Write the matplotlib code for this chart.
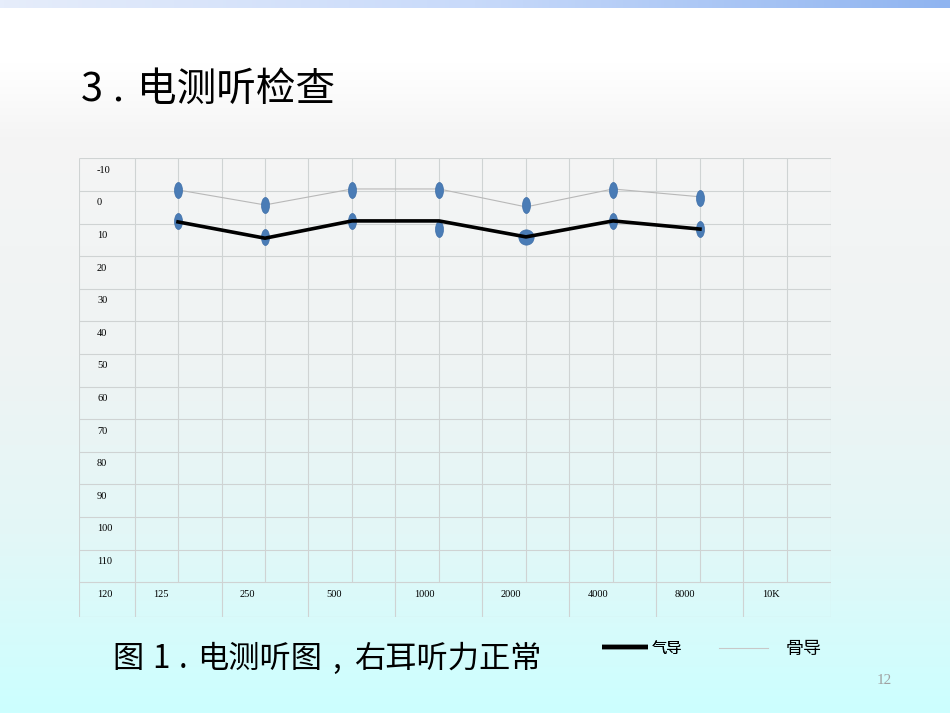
import numpy as np
import matplotlib
matplotlib.use("Agg")
import matplotlib.pyplot as plt
from matplotlib.path import Path
from matplotlib.transforms import Affine2D
from matplotlib.colors import LinearSegmentedColormap

# audiogram data (dB HL)
freq_labels = ['125', '250', '500', '1000', '2000', '4000', '8000', '10K']
db_labels = [-10, 0, 10, 20, 30, 40, 50, 60, 70, 80, 90, 100, 110, 120]
air_line = [4.5, 9.5, 4.2, 4.2, 9.1, 4.2, 6.7]
air_marks = [4.2, 9.2, 4.2, 6.7, 9.2, 4.2, 6.7]
bone_line = [-5.3, -0.7, -5.6, -5.6, -0.1, -5.6, -3.2]
bone_marks = [-5.3, -0.7, -5.3, -5.3, -0.7, -5.3, -2.9]

plt.rcParams['font.family'] = ['Noto Sans CJK SC', 'DejaVu Sans']
serif = ['Liberation Serif', 'DejaVu Serif']

W, H = 950, 713
fig = plt.figure(figsize=(W / 100, H / 100), dpi=100)

# slide background
bg = fig.add_axes([0, 0, 1, 1])
bg.set_xlim(0, W)
bg.set_ylim(H, 0)
bg.set_axis_off()
bg_cmap = LinearSegmentedColormap.from_list('bg', [
    (0.0, '#ffffff'), (0.09, '#ffffff'), (0.12, '#fcfcfc'), (0.19, '#f5f5f5'),
    (0.5, '#eff3f3'), (0.75, '#e3f7f7'), (1.0, '#ccffff')])
bg.imshow(np.linspace(0, 1, 256).reshape(-1, 1), cmap=bg_cmap,
          extent=[0, W, H, 0], aspect='auto')
bar_cmap = LinearSegmentedColormap.from_list('bar', ['#e6edfb', '#c8dafa', '#8fb4f0'])
bg.imshow(np.linspace(0, 1, 256).reshape(1, -1), cmap=bar_cmap,
          extent=[0, W, 8, 0], aspect='auto')

# the audiogram table
ax = fig.add_axes([79 / W, 96 / H, 752 / W, 459 / H])
ax.set_xlim(-1.138, 7.506)
ax.set_ylim(125.7, -15.1)
ax.set_axis_off()
ax.patch.set_alpha(0)

grid_c = '#cfd3d3'
n = len(freq_labels)
x_left, x_right = -1.138, 7.506
y_top, y_bot = -15.1, 125.7
last_line = db_labels[-1] - 5
for v in db_labels[:-1]:
    ax.hlines(v + 5, x_left, x_right, color=grid_c, lw=0.8)
ax.hlines([y_top, y_bot], x_left, x_right, color=grid_c, lw=0.8)
ax.vlines([x_left, x_right], y_top, y_bot, color=grid_c, lw=0.8)
ax.vlines(np.arange(-0.5, n - 0.5, 0.5), y_top, last_line, color=grid_c, lw=0.8)
ax.vlines(np.arange(-0.5, n - 1, 1.0), last_line, y_bot, color=grid_c, lw=0.8)

for v in db_labels:
    ax.text(-0.931, v - 1.3, str(v), fontsize=7.5, family=serif, va='center')
for i, f in enumerate(freq_labels):
    ax.text(i - 0.29, db_labels[-1] - 1.3, f, fontsize=7.5, family=serif, va='center')

x = np.arange(len(air_line))
ellipse = Path.unit_circle().transformed(Affine2D().scale(0.5, 1.0))
blue = '#4a7cb6'

bone_h, = ax.plot(x, bone_line, color='#b8b8b8', lw=0.8, zorder=2)
ax.plot(x, bone_marks, ls='none', marker=ellipse, ms=11.5, color=blue,
        mec='#3f6fa8', mew=0.5, zorder=3)
ax.plot(x[:4], air_marks[:4], ls='none', marker=ellipse, ms=11.5, color=blue,
        mec='#3f6fa8', mew=0.5, zorder=3)
ax.plot(x[4:5], air_marks[4:5], ls='none', marker='o', ms=11, color=blue,
        mec='#3f6fa8', mew=0.5, zorder=3)
ax.plot(x[5:], air_marks[5:], ls='none', marker=ellipse, ms=11.5, color=blue,
        mec='#3f6fa8', mew=0.5, zorder=3)
air_h, = ax.plot(x, air_line, color='black', lw=2.6, zorder=4)

# texts on the slide
fig.text(81 / W, 1 - 90 / H, '3', fontsize=28.5, va='center')
fig.text(112 / W, 1 - 90 / H, '.', fontsize=28.5, va='center')
fig.text(137 / W, 1 - 90 / H, '电测听检查', fontsize=28.5, va='center')

cy = 1 - 659 / H
fig.text(112 / W, cy, '图', fontsize=22.5, va='center')
fig.text(152 / W, cy, '1', fontsize=22.5, va='center')
fig.text(179 / W, cy, '.', fontsize=22.5, va='center')
fig.text(197 / W, cy, '电测听图', fontsize=22.5, va='center')
fig.text(332 / W, cy, ',', fontsize=22.5, va='center')
fig.text(354 / W, cy, '右耳听力正常', fontsize=22.5, va='center')

fig.text(877 / W, 1 - 681 / H, '12', fontsize=11, family=serif, color='#a0a0a0',
         va='center')

leg_air = fig.legend(handles=[air_h], labels=['气导'], loc='center left',
                     bbox_to_anchor=(588 / W, 1 - 648 / H), frameon=False,
                     fontsize=11, handlelength=3.05, handletextpad=0.2)
leg_air.legend_handles[0].set_linewidth(3.2)
leg_air.legend_handles[0].set_solid_capstyle('butt')
fig.add_artist(leg_air)
leg_bone = fig.legend(handles=[bone_h], labels=['骨导'], loc='center left',
                      bbox_to_anchor=(703 / W, 1 - 649 / H), frameon=False,
                      fontsize=13, handlelength=2.7, handletextpad=1.0)
leg_bone.legend_handles[0].set_color('#c8c8c8')

fig.savefig('out.png', dpi=100)
